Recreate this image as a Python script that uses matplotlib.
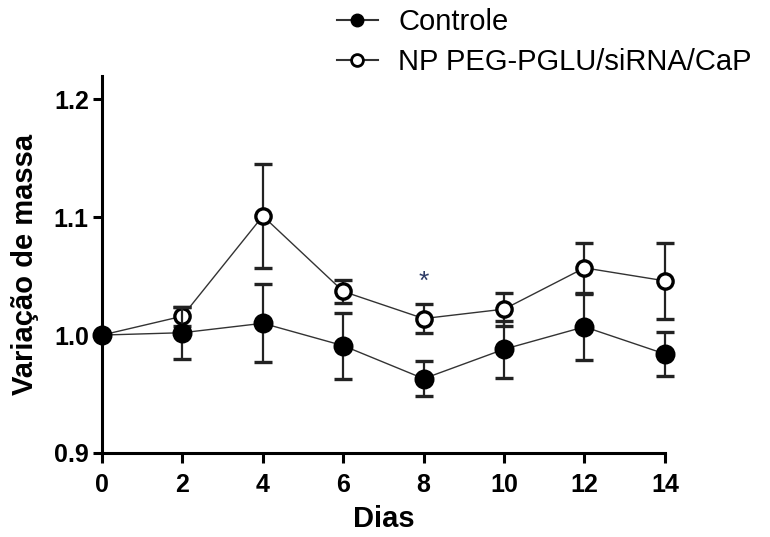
import matplotlib
matplotlib.use("Agg")
import matplotlib.pyplot as plt
from matplotlib.lines import Line2D

plt.rcParams['font.family'] = ['Liberation Sans', 'DejaVu Sans']

dias = [0, 2, 4, 6, 8, 10, 12, 14]
controle = [1.000, 1.002, 1.010, 0.991, 0.963, 0.988, 1.007, 0.984]
controle_err = [0.000, 0.022, 0.033, 0.028, 0.015, 0.024, 0.028, 0.019]
np_vals = [1.000, 1.016, 1.101, 1.037, 1.014, 1.022, 1.057, 1.046]
np_err = [0.000, 0.008, 0.044, 0.010, 0.012, 0.014, 0.021, 0.032]
labels = ["Controle", "NP PEG-PGLU/siRNA/CaP"]
xticks = [0, 2, 4, 6, 8, 10, 12, 14]
yticks = [0.9, 1.0, 1.1, 1.2]
star_x, star_y = 8, 1.045

fig = plt.figure(figsize=(7.7, 5.37), dpi=100)
ax = fig.add_axes([0.1325, 0.1565, 0.731, 0.7025])


def draw(vals, err, mfc, ms, z):
    h = ax.errorbar(dias, vals, yerr=err, fmt='o', color='black', mfc=mfc, mec='black',
                    mew=2.4, ms=ms, ecolor='#222222', elinewidth=1.6, capsize=6.5, capthick=1.6,
                    ls='-', lw=1.0, zorder=z)
    h[0].set_color('#333333'); h[0].set_mec('black'); h[0].set_mfc(mfc)
    h[0].set_clip_on(False)
    for c in h[1]:
        c.set_clip_on(False)
    for c in h[2]:
        c.set_clip_on(False)
    return h


draw(np_vals, np_err, 'white', 11, 3)
draw(controle, controle_err, 'black', 12, 4)

ax.text(star_x, star_y, '*', ha='center', va='center', fontsize=19, color='#2d3b66')

ax.set_xlim(0, 14)
ax.set_ylim(0.9, 1.22)
ax.set_xticks(xticks)
ax.set_yticks(yticks)
ax.set_yticklabels([f"{v:.1f}" for v in yticks])
for s in ['top', 'right']:
    ax.spines[s].set_visible(False)
for s in ['left', 'bottom']:
    ax.spines[s].set_linewidth(2.2)
ax.tick_params(axis='x', direction='out', length=7.5, width=2.2, labelsize=18, pad=7)
ax.tick_params(axis='y', direction='out', length=6.5, width=2.2, labelsize=18, pad=3)
for lab in ax.get_xticklabels() + ax.get_yticklabels():
    lab.set_fontweight('bold')
ax.set_xlabel("Dias", fontsize=21, fontweight='bold', labelpad=6)
ax.set_ylabel("Variação de massa", fontsize=21, fontweight='bold', labelpad=11)

leg_handles = [
    Line2D([], [], color='#333333', lw=1.5, marker='o', ms=9, mfc='black', mec='black'),
    Line2D([], [], color='#333333', lw=1.5, marker='o', ms=8.5, mfc='white', mec='black', mew=2),
]
fig.legend(handles=leg_handles, labels=labels, loc='upper left', bbox_to_anchor=(0.4377, 0.985),
           frameon=False, fontsize=21, handlelength=1.4, handletextpad=0.7, labelspacing=0.42,
           borderpad=0.0, borderaxespad=0.0)

fig.savefig("out.png", dpi=100)
